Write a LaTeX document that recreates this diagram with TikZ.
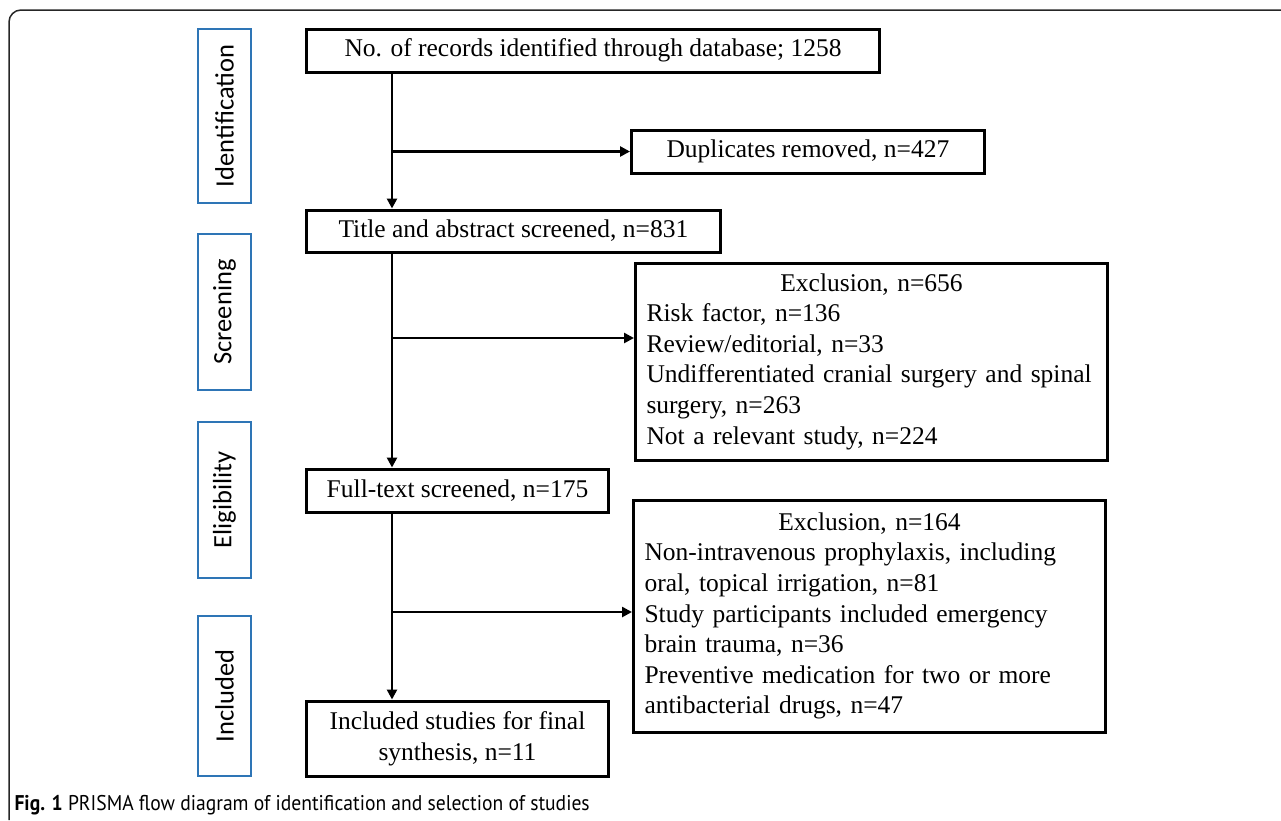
\documentclass[tikz,border=0pt]{standalone}
\usepackage{fontspec}
\usetikzlibrary{arrows.meta}
\newfontfamily\timesfont{Liberation Serif}
\newfontfamily\stagefont{Carlito}
\newfontfamily\capfont[FakeStretch=0.92]{PT Sans}
\definecolor{stageblue}{RGB}{46,117,182}
\tikzset{
  box/.style={draw, line width=3pt, anchor=west, inner ysep=0pt,
    font=\timesfont\fontsize{25.5}{30.6}\selectfont},
  exclbox/.style={box, align=left, text width=450pt, inner xsep=11pt},
  stage/.style={draw=stageblue, line width=1.6pt, rotate=90, inner sep=0pt,
    minimum height=53pt, font=\stagefont\fontsize{26.5}{30}\selectfont},
  arr/.style={line width=2.5pt, -{Triangle[length=10pt,width=10pt]}},
}
\begin{document}
\begin{tikzpicture}[x=1pt,y=-1pt]
        \useasboundingbox (0,0) rectangle (1281,820);
        % The frame
        \draw [line width=1.5pt, black!85, rounded corners=12pt]
            (1281,10) -- (9,10) -- (9,820);
        % The stages
        \node [stage, minimum width=174pt] (stIdent) at (224.5,116) {Identification};
        \node [stage, minimum width=156pt] (stScreen) at (224.5,312) {Screening};
        \node [stage, minimum width=156pt] (stElig) at (224.5,500) {Eligibility};
        \node [stage, minimum width=160pt] (stIncl) at (224.5,696) {Included};
        % The main boxes
        \node [box, inner xsep=38pt, minimum height=43pt] (records) at (305,50.5)
            {No. of records identified through database; 1258};
        \node [box, inner xsep=32pt, minimum height=42pt] (screened) at (305,231)
            {Title and abstract screened, n=831};
        \node [box, minimum width=302pt, minimum height=43pt] (fulltext) at (305,490.5)
            {Full-text screened, n=175};
        \node [box, align=center, minimum width=302pt, minimum height=75pt] (included) at (305,738.5)
            {Included studies for final\\ synthesis, n=11};
        % The side boxes
        \node [box, inner xsep=35pt, minimum height=43pt] (dups) at (630,151.5)
            {Duplicates removed, n=427};
        \node [exclbox, minimum height=197pt] (excl1) at (634,361.5)
            {\centerline{Exclusion, n=656}
             Risk factor, n=136\\
             Review/editorial, n=33\\
             Undifferentiated cranial surgery and spinal\\
             surgery, n=263\\
             Not a relevant study, n=224};
        \node [exclbox, minimum height=232pt] (excl2) at (632,616)
            {\centerline{Exclusion, n=164}
             Non-intravenous prophylaxis, including\\
             oral, topical irrigation, n=81\\
             Study participants included emergency\\
             brain trauma, n=36\\
             Preventive medication for two or more\\
             antibacterial drugs, n=47};
        % The spine and the branches
        \coordinate (spine) at (392,0);
        \coordinate (b1) at (392,151.5);
        \coordinate (b2) at (392,338);
        \coordinate (b3) at (392,612);
        \draw [arr] (records.south -| spine) -- (screened.north -| spine);
        \draw [arr] (screened.south -| spine) -- (fulltext.north -| spine);
        \draw [arr] (fulltext.south -| spine) -- (included.north -| spine);
        \draw [arr] (b1) -- (b1 -| dups.west);
        \draw [arr] (b2) -- (b2 -| excl1.west);
        \draw [arr] (b3) -- (b3 -| excl2.west);
        % The caption
        \node [anchor=base west, font=\capfont\fontsize{21.3}{25}\selectfont] (caption) at (11,810)
            {\textbf{Fig. 1} PRISMA flow diagram of identification and selection of studies};
    \end{tikzpicture}
\end{document}
